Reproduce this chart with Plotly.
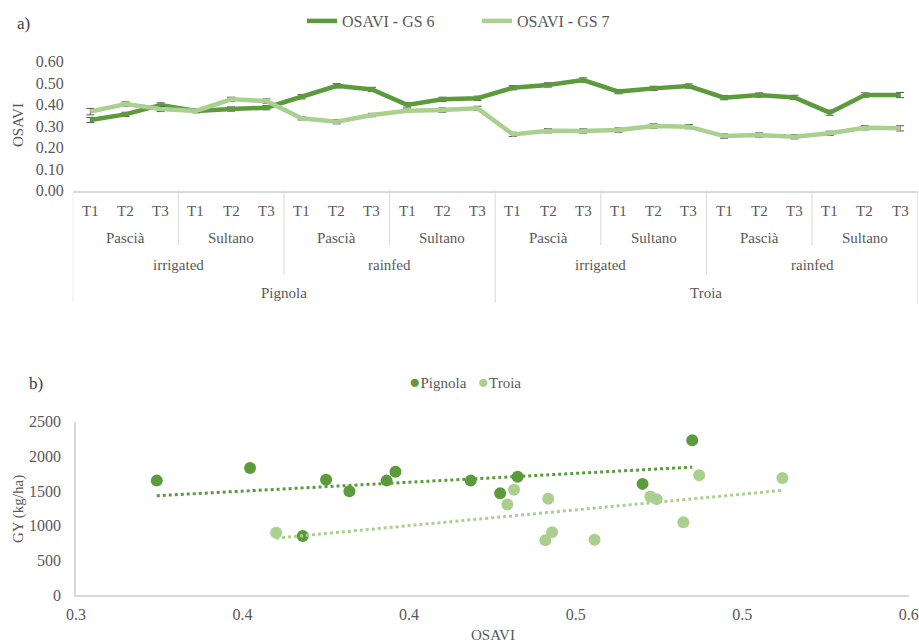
import numpy as np
import plotly.graph_objects as go

# ---- Panel a) OSAVI by location / water regime / variety / treatment ----
locations = ["Pignola", "Troia"]
waters = ["irrigated", "rainfed"]
varieties = ["Pascià", "Sultano"]
times = ["T1", "T2", "T3"]

osavi_gs6 = [0.328, 0.354, 0.398, 0.370, 0.379, 0.385,
             0.436, 0.487, 0.470, 0.398, 0.424, 0.429,
             0.478, 0.491, 0.514, 0.460, 0.475, 0.486,
             0.432, 0.444, 0.433, 0.362, 0.444, 0.444]
osavi_gs7 = [0.367, 0.402, 0.379, 0.370, 0.424, 0.416,
             0.336, 0.320, 0.351, 0.371, 0.374, 0.382,
             0.261, 0.278, 0.277, 0.281, 0.300, 0.297,
             0.253, 0.258, 0.250, 0.266, 0.292, 0.289]
err_gs6 = [0.012, 0.010, 0.010, 0.008, 0.010, 0.010,
           0.010, 0.010, 0.010, 0.010, 0.010, 0.010,
           0.010, 0.010, 0.010, 0.010, 0.010, 0.010,
           0.010, 0.010, 0.010, 0.012, 0.010, 0.012]
err_gs7 = [0.015, 0.010, 0.012, 0.008, 0.010, 0.010,
           0.008, 0.010, 0.008, 0.008, 0.010, 0.010,
           0.010, 0.010, 0.010, 0.010, 0.010, 0.010,
           0.010, 0.010, 0.010, 0.010, 0.010, 0.012]
osavi_ticks = [0.0, 0.1, 0.2, 0.3, 0.4, 0.5, 0.6]

# ---- Panel b) grain yield vs OSAVI ----
pignola_osavi = [0.3291, 0.3627, 0.3901, 0.3985, 0.4119, 0.4151,
                 0.3817, 0.4422, 0.4528, 0.4591, 0.5041, 0.5220]
pignola_gy = [1650, 1831, 1664, 1497, 1650, 1779,
              850, 1650, 1469, 1707, 1603, 2231]
troia_osavi = [0.3721, 0.4578, 0.4554, 0.4701, 0.4715, 0.4691,
               0.4868, 0.5069, 0.5092, 0.5188, 0.5245, 0.5545]
troia_gy = [897, 1517, 1307, 1389, 907, 789,
            797, 1421, 1383, 1050, 1726, 1689]
gy_osavi_tickvals = [0.30, 0.36, 0.42, 0.48, 0.54, 0.60]
gy_osavi_ticktext = ["0.3", "0.4", "0.4", "0.5", "0.5", "0.6"]
gy_ticks = [0, 500, 1000, 1500, 2000, 2500]

DARK = "#5b9b3c"
LIGHT = "#a9d08e"
TXT = "#595959"
GRID = "#d9d9d9"
FONT = "Liberation Serif, Times New Roman, serif"
W, H = 919, 644


def px_x(p):
    return p / W


def px_y(p):
    return 1 - p / H


# category hierarchy (outer -> inner)
cats = [(l, w, v, t) for l in locations for w in waters for v in varieties for t in times]
xpos = list(range(len(cats)))

fig = go.Figure()

fig.add_trace(go.Scatter(
    x=xpos, y=osavi_gs6, mode="lines", name="OSAVI - GS 6",
    line=dict(color=DARK, width=4.5),
    error_y=dict(type="data", array=err_gs6, color="#595959", thickness=1, width=4),
    xaxis="x", yaxis="y", legend="legend"))
fig.add_trace(go.Scatter(
    x=xpos, y=osavi_gs7, mode="lines", name="OSAVI - GS 7",
    line=dict(color=LIGHT, width=4.5),
    error_y=dict(type="data", array=err_gs7, color="#595959", thickness=1, width=4),
    xaxis="x", yaxis="y", legend="legend"))

fig.add_trace(go.Scatter(
    x=pignola_osavi, y=pignola_gy, mode="markers", name="Pignola",
    marker=dict(color=DARK, size=12), showlegend=False,
    xaxis="x2", yaxis="y2"))
fig.add_trace(go.Scatter(
    x=troia_osavi, y=troia_gy, mode="markers", name="Troia",
    marker=dict(color=LIGHT, size=12), showlegend=False,
    xaxis="x2", yaxis="y2"))

# linear trend lines
for xs, ys, col in [(pignola_osavi, pignola_gy, DARK), (troia_osavi, troia_gy, LIGHT)]:
    k, b = np.polyfit(xs, ys, 1)
    xl = np.array([min(xs), max(xs)])
    fig.add_trace(go.Scatter(
        x=xl, y=k * xl + b, mode="lines", showlegend=False,
        line=dict(color=col, width=3, dash="dot"),
        xaxis="x2", yaxis="y2", hoverinfo="skip"))

# ---- hierarchical category labels ----
ann = []
row_y = [px_y(210.7), px_y(238.3), px_y(265.0), px_y(293.3)]


def cat_label(x, y, text):
    return dict(x=x, y=y, xref="x", yref="paper", text=text, showarrow=False,
                xanchor="center", yanchor="middle")


for i, c in enumerate(cats):
    ann.append(cat_label(i, row_y[0], c[3]))
for g in range(len(cats) // 3):
    ann.append(cat_label(3 * g + 1, row_y[1], cats[3 * g][2]))
for g in range(len(cats) // 6):
    ann.append(cat_label(6 * g + 2.5, row_y[2], cats[6 * g][1]))
for g in range(len(cats) // 12):
    ann.append(cat_label(12 * g + 5.5, row_y[3], cats[12 * g][0]))

shapes = []
top = px_y(190.5)
depth = {12: px_y(303), 6: px_y(275), 3: px_y(245)}
for k in range(0, len(cats) + 1, 3):
    if k % 12 == 0:
        yb = depth[12]
    elif k % 6 == 0:
        yb = depth[6]
    else:
        yb = depth[3]
    shapes.append(dict(type="line", xref="x", yref="paper", x0=k - 0.5, x1=k - 0.5,
                       y0=top, y1=yb, line=dict(color=GRID, width=1)))

# legend of panel b: coloured bullets followed by the location name
legend_b = ("<span style='color:%s;font-size:19px'>●</span>Pignola&nbsp;&nbsp;&nbsp;"
            "<span style='color:%s;font-size:19px'>●</span>Troia") % (DARK, LIGHT)


def paper_text(x, y, text, **kw):
    d = dict(x=px_x(x), y=px_y(y), xref="paper", yref="paper", text=text, showarrow=False,
             xanchor="center", yanchor="middle")
    d.update(kw)
    return d


ann += [
    paper_text(15, 24, "a)", xanchor="left", font=dict(size=17, color="#404040")),
    paper_text(27, 383, "b)", xanchor="left", font=dict(size=17, color="#404040")),
    paper_text(18, 125, "OSAVI", textangle=-90, font=dict(size=15, color=TXT)),
    paper_text(18, 509, "GY (kg/ha)", textangle=-90, font=dict(size=15, color=TXT)),
    paper_text(493, 635, "OSAVI", font=dict(size=15, color=TXT)),
    paper_text(465, 381, legend_b, font=dict(size=15, color=TXT)),
]

tickfont = dict(family=FONT, size=16, color=TXT)

fig.update_layout(
    template="none",
    width=W, height=H,
    margin=dict(l=0, r=0, t=0, b=0, pad=0),
    paper_bgcolor="white", plot_bgcolor="white",
    font=dict(family=FONT, size=15, color=TXT),
    annotations=ann, shapes=shapes,
    xaxis=dict(domain=[px_x(72.7), px_x(917.7)], range=[-0.5, 23.5], automargin=False,
               showticklabels=False, showgrid=False, zeroline=False,
               showline=True, linecolor=GRID, linewidth=1.5, anchor="y", ticks=""),
    yaxis=dict(domain=[px_y(190.5), px_y(61.5)], range=[0, 0.6], tickvals=osavi_ticks,
               tickformat=".2f", showgrid=False, zeroline=False, showline=False,
               automargin=False, tickfont=tickfont, ticks="", ticklabelstandoff=8, anchor="x"),
    xaxis2=dict(domain=[px_x(76), px_x(909.3)], range=[0.3, 0.6002],
                tickvals=gy_osavi_tickvals, ticktext=gy_osavi_ticktext, automargin=False,
                showgrid=False, zeroline=False, showline=True,
                linecolor=GRID, linewidth=1.5, tickfont=tickfont, ticks="", anchor="y2",
                ticklabelstandoff=4),
    yaxis2=dict(domain=[px_y(595), px_y(421.7)], range=[0, 2500], tickvals=gy_ticks,
                showgrid=False, zeroline=False, showline=True, linecolor=GRID, linewidth=1.5,
                automargin=False, tickfont=tickfont, ticks="", anchor="x2", ticklabelstandoff=10),
    legend=dict(orientation="h", x=px_x(302), y=px_y(21), xanchor="left", yanchor="middle",
                font=dict(family=FONT, size=16, color=TXT), bgcolor="rgba(0,0,0,0)",
                itemclick=False, entrywidth=130),
    showlegend=True,
)

fig.write_html("out.html")
